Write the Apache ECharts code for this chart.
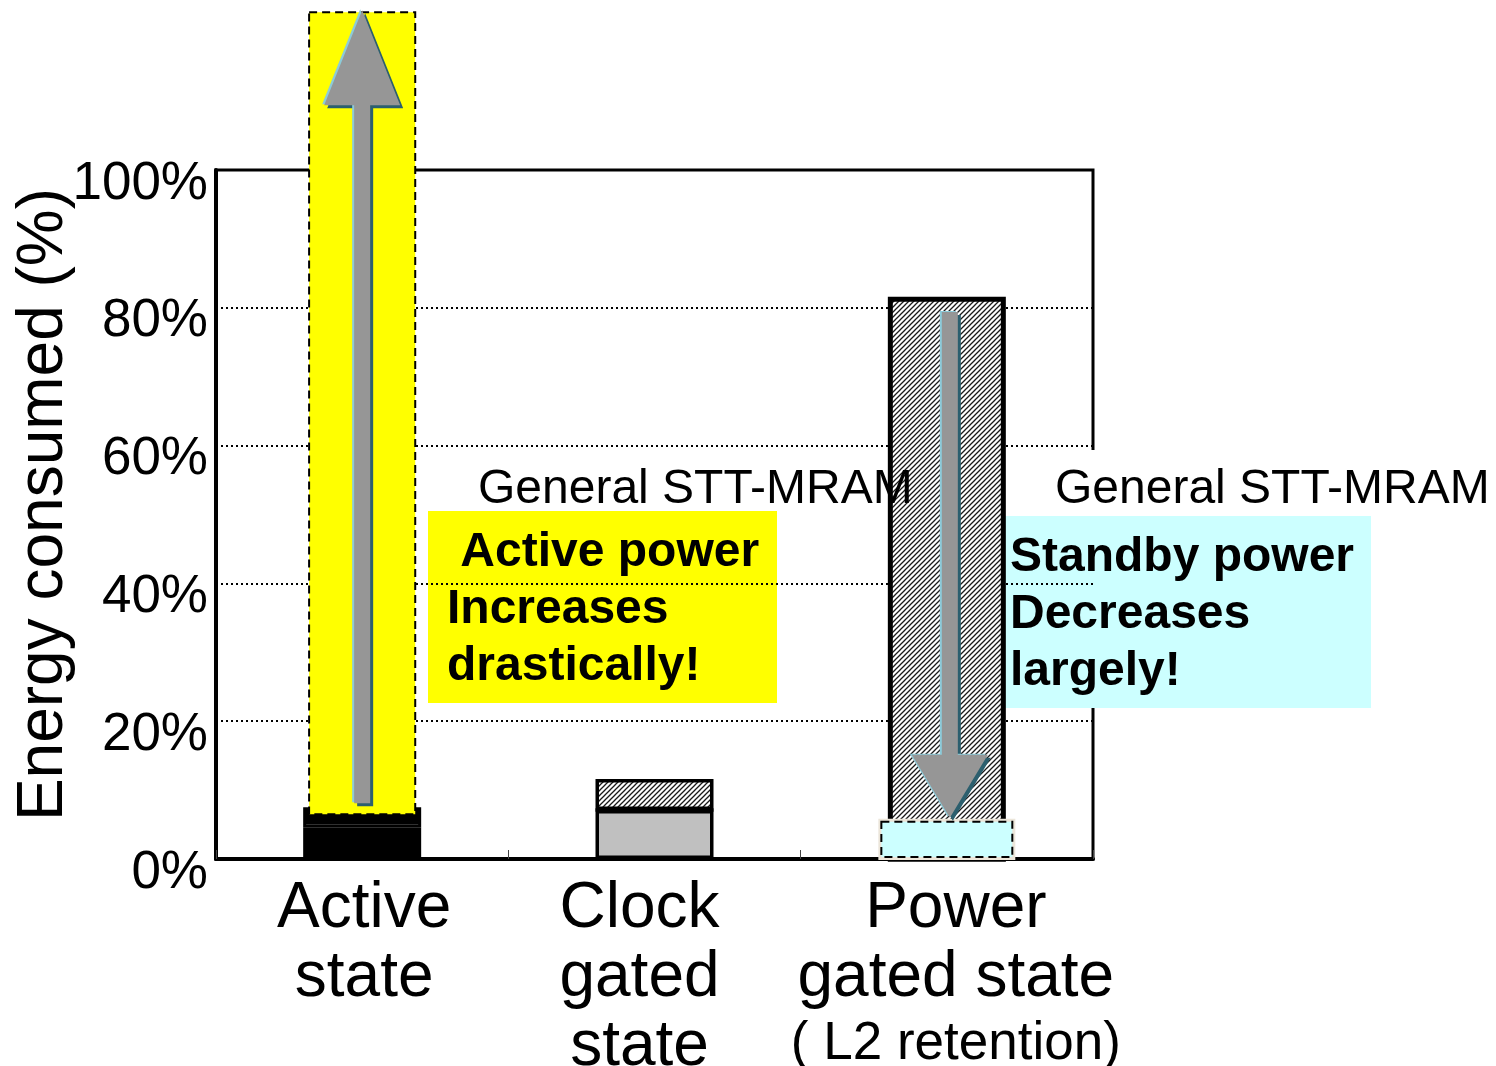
<!DOCTYPE html>
<html>
<head>
<meta charset="utf-8">
<title>Energy consumed by operating state</title>
<script src="https://cdn.jsdelivr.net/npm/echarts@6/dist/echarts.min.js"></script>
<style>
  html, body { margin: 0; padding: 0; background: #fff; }
  #chart { width: 1496px; height: 1066px; }
</style>
</head>
<body>
<div id="chart"></div>
<script>
// Operating states and the energy (% of the active-state reference) each one consumes
const categories = ['Active\nstate', 'Clock\ngated\nstate', 'Power\ngated state\n( L2 retention)'];
const baseShare = [4.6, 7.1, 0];     // lower segment of each bar
const stripeShare = [0.9, 0, 0];     // thin middle segment
const topShare = [2.0, 4.5, 81.6];   // upper (hatched) segment
const yTicks = [0, 20, 40, 60, 80, 100];

// General STT-MRAM trends: [category index, from %, to %]
const activeBand = [0, 6.5, 122.9];
const activeArrow = [0, 8.1, 123.2];
const standbyBand = [2, 0.3, 5.4];
const standbyArrow = [2, 79.4, 6.0];

const FONT = '"Liberation Sans", Arial, Helvetica, sans-serif';

// Diagonal hatch tile used for the upper bar segments
function makeHatch() {
  const c = document.createElement('canvas');
  c.width = 5; c.height = 5;
  const g = c.getContext('2d');
  g.fillStyle = '#ffffff';
  g.fillRect(0, 0, 5, 5);
  g.strokeStyle = '#1a1a1a';
  g.lineWidth = 1.3;
  g.beginPath();
  g.moveTo(-1, 6); g.lineTo(6, -1);
  g.moveTo(-1, 1); g.lineTo(1, -1);
  g.moveTo(4, 6); g.lineTo(6, 4);
  g.stroke();
  return c;
}
const hatch = { image: makeHatch(), repeat: 'repeat' };

const baseColors = ['#000000', '#c0c0c0', '#c0c0c0'];
const stripeColors = ['#c0c0c0', '#c0c0c0', '#c0c0c0'];
const topColors = ['#000000', hatch, hatch];
const borderWidths = [3, 3.5, 5];

// Horizontal nudges of the multi-line category labels
const labelPadding = [[0, 0, 0, 4], [0, 30, 0, 0], [0, 0, 0, 18]];

function segment(values, colors) {
  return values.map((v, i) => ({
    value: v,
    itemStyle: { color: colors[i], borderColor: '#000', borderWidth: borderWidths[i] }
  }));
}

// Dashed highlight band behind/over a bar
function bandRenderer(fill, widthFrac, halo) {
  return function (params, api) {
    const lo = api.coord([api.value(0), api.value(1)]);
    const hi = api.coord([api.value(0), api.value(2)]);
    const bw = api.size([1, 0])[0] * widthFrac;
    const shape = { x: lo[0] - bw / 2, y: hi[1], width: bw, height: lo[1] - hi[1] };
    const children = [];
    if (halo) {
      children.push({ type: 'rect', shape: shape, style: { fill: null, stroke: halo, lineWidth: 6 } });
    }
    children.push({
      type: 'rect', shape: shape,
      style: { fill: fill, stroke: '#000', lineWidth: 2, lineDash: [8, 5] }
    });
    return { type: 'group', children: children };
  };
}

// Block arrow from value[1] to value[2]
function arrowRenderer(params, api) {
  const s = api.coord([api.value(0), api.value(1)]);
  const e = api.coord([api.value(0), api.value(2)]);
  const up = e[1] < s[1];
  const dir = up ? -1 : 1;
  const head = up ? 95 : 63;
  const x = s[0] + (up ? 0 : 3);
  const hb = e[1] - dir * head;
  const pts = [[x - 8, s[1]], [x + 8, s[1]], [x + 8, hb], [x + 38, hb], [x, e[1]], [x - 38, hb], [x - 8, hb]];
  const shift = (dx, dy) => pts.map(p => [p[0] + dx, p[1] + dy]);
  return {
    type: 'group',
    children: [
      { type: 'polygon', shape: { points: shift(3, 3) }, style: { fill: '#2c5f6e' } },
      { type: 'polygon', shape: { points: shift(-2, -1) }, style: { fill: '#8ccbd9' } },
      { type: 'polygon', shape: { points: pts }, style: { fill: '#969696' } }
    ]
  };
}

const chart = echarts.init(document.getElementById('chart'), null, { renderer: 'canvas' });

chart.setOption({
  backgroundColor: '#ffffff',
  animation: false,
  textStyle: { fontFamily: FONT },
  grid: {
    left: 216, right: 403, top: 170, bottom: 207,
    containLabel: false, outerBoundsMode: 'none',
    show: true, borderColor: '#000', borderWidth: 3, backgroundColor: 'transparent'
  },
  xAxis: {
    type: 'category',
    data: categories.map((c, i) => ({ value: c, textStyle: { padding: labelPadding[i] } })),
    axisLine: { lineStyle: { color: '#000', width: 4 } },
    axisTick: { show: true, inside: true, length: 9, lineStyle: { color: '#444', width: 1 } },
    axisLabel: {
      margin: 16,
      interval: 0,
      formatter: function (v) {
        return v.split('\n').map(l => l.charAt(0) === '(' ? '{sub|' + l + '}' : '{main|' + l + '}').join('\n');
      },
      rich: {
        main: { fontFamily: FONT, fontSize: 64, lineHeight: 69, color: '#000' },
        sub: { fontFamily: FONT, fontSize: 53, lineHeight: 62, color: '#000' }
      }
    }
  },
  yAxis: {
    type: 'value',
    min: yTicks[0],
    max: yTicks[yTicks.length - 1],
    interval: yTicks[1] - yTicks[0],
    name: 'Energy consumed (%)',
    nameLocation: 'middle',
    nameGap: 140,
    nameMoveOverlap: false,
    nameTextStyle: { fontFamily: FONT, fontSize: 64, color: '#000', padding: [0, 0, 0, 20] },
    axisLine: { show: true, lineStyle: { color: '#000', width: 4 } },
    axisTick: { show: false },
    axisLabel: {
      formatter: '{value}%',
      fontFamily: FONT, fontSize: 53, color: '#000',
      margin: 8,
      verticalAlign: 'top',
      lineHeight: 28
    },
    splitLine: { show: true, lineStyle: { color: '#000', width: 2, type: [2, 3] } }
  },
  series: [
    { type: 'bar', stack: 'e', barWidth: 118, z: 2, data: segment(baseShare, baseColors) },
    { type: 'bar', stack: 'e', barWidth: 118, z: 2, data: segment(stripeShare, stripeColors) },
    { type: 'bar', stack: 'e', barWidth: 118, z: 2, data: segment(topShare, topColors) },
    {
      type: 'custom', z: 4, clip: false,
      renderItem: bandRenderer('#ffff00', 0.363, null),
      data: [activeBand]
    },
    {
      type: 'custom', z: 4, clip: false,
      renderItem: bandRenderer('#ccffff', 0.448, '#ece6da'),
      data: [standbyBand]
    },
    {
      type: 'custom', z: 5, clip: false,
      renderItem: arrowRenderer,
      data: [activeArrow, standbyArrow]
    }
  ],
  graphic: [
    {
      type: 'text', z: 20,
      style: { text: 'General STT-MRAM', x: 478, y: 490, verticalAlign: 'middle',
               font: '48px ' + FONT, fill: '#000' }
    },
    {
      type: 'group', z: 20,
      children: [
        { type: 'rect', shape: { x: 428, y: 511, width: 349, height: 192 }, style: { fill: '#ffff00' } },
        { type: 'text', style: { text: ' Active power\nIncreases\ndrastically!', x: 447, y: 524,
            verticalAlign: 'top', lineHeight: 57, font: 'bold 48px ' + FONT, fill: '#000' } }
      ]
    },
    {
      type: 'group', z: 20,
      children: [
        { type: 'rect', shape: { x: 1045, y: 450, width: 451, height: 67 }, style: { fill: '#ffffff' } },
        { type: 'text', style: { text: 'General STT-MRAM', x: 1055, y: 490, verticalAlign: 'middle',
            font: '48px ' + FONT, fill: '#000' } }
      ]
    },
    {
      type: 'group', z: 20,
      children: [
        { type: 'rect', shape: { x: 989, y: 516, width: 382, height: 192 }, style: { fill: '#ccffff' } },
        { type: 'text', style: { text: 'Standby power\nDecreases\nlargely!', x: 1010, y: 529,
            verticalAlign: 'top', lineHeight: 57, font: 'bold 48px ' + FONT, fill: '#000' } }
      ]
    }
  ]
});
</script>
</body>
</html>
